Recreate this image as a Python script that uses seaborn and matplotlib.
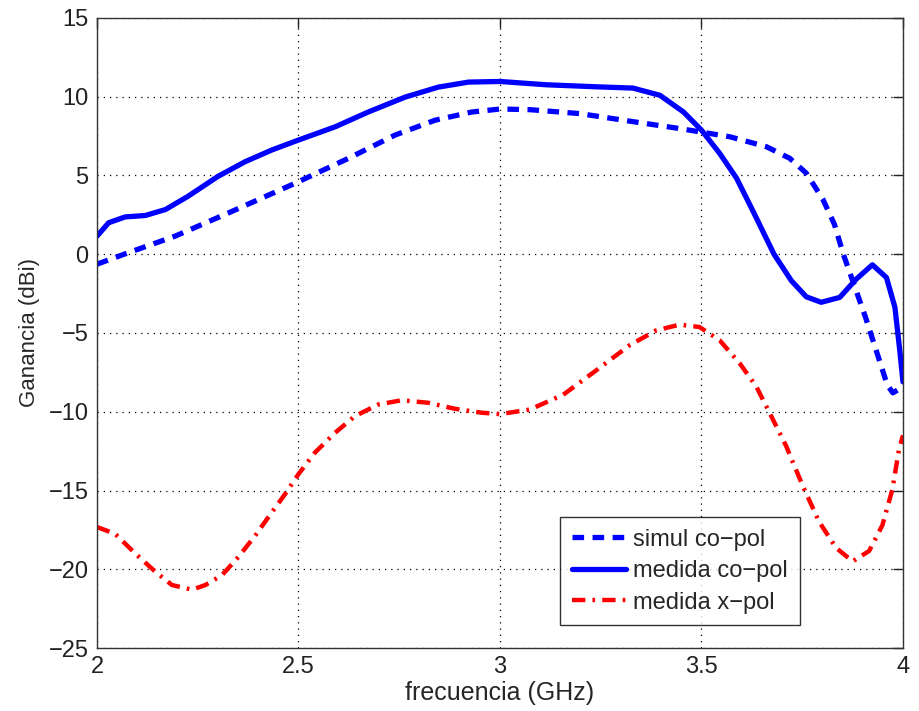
import numpy as np
import matplotlib
matplotlib.use("Agg")
import matplotlib.pyplot as plt
import seaborn as sns

# frequencies (GHz) and gains (dBi)
freq_simul = [2.0, 2.078, 2.194, 2.326, 2.492, 2.624, 2.74, 2.839, 2.93, 3.0, 3.074,
              3.198, 3.322, 3.446, 3.57, 3.661, 3.719, 3.76, 3.801, 3.83, 3.852, 3.878,
              3.907, 3.936, 3.961, 3.975, 3.988, 4.0]
gain_simul = [-0.63, 0.1, 1.15, 2.62, 4.51, 6.09, 7.57, 8.51, 9.03, 9.22, 9.18,
              8.93, 8.45, 7.98, 7.46, 6.83, 6.09, 5.15, 3.5, 1.89, 0.0, -1.89,
              -4.0, -6.3, -8.3, -8.8, -8.6, -8.3]

freq_medida = [2.0, 2.029, 2.07, 2.12, 2.17, 2.226, 2.30, 2.368, 2.434, 2.5, 2.591,
               2.674, 2.765, 2.847, 2.922, 3.0, 3.115, 3.24, 3.33, 3.397, 3.455, 3.5,
               3.545, 3.587, 3.628, 3.68, 3.723, 3.76, 3.797, 3.843, 3.884, 3.924,
               3.959, 3.98, 3.992, 4.0]
gain_medida = [1.15, 2.0, 2.37, 2.46, 2.84, 3.68, 4.94, 5.88, 6.62, 7.25, 8.09,
               9.04, 9.98, 10.61, 10.93, 10.97, 10.76, 10.63, 10.55, 10.09, 9.04, 7.88,
               6.41, 4.83, 2.73, 0.0, -1.68, -2.7, -3.05, -2.74, -1.58, -0.67,
               -1.48, -3.37, -6.1, -8.1]

freq_xpol = [2.0, 2.045, 2.095, 2.145, 2.186, 2.236, 2.269, 2.31, 2.351, 2.393, 2.434,
             2.467, 2.5, 2.541, 2.591, 2.64, 2.698, 2.756, 2.822, 2.888, 2.954, 3.0,
             3.074, 3.157, 3.24, 3.322, 3.388, 3.446, 3.495, 3.545, 3.595, 3.636,
             3.669, 3.71, 3.751, 3.792, 3.834, 3.875, 3.916, 3.949, 3.974, 3.99, 4.0]
gain_xpol = [-17.32, -17.75, -19.0, -20.16, -21.0, -21.3, -21.0, -20.38, -19.22, -17.85,
             -16.38, -15.22, -13.96, -12.59, -11.33, -10.28, -9.54, -9.27, -9.43, -9.81,
             -10.06, -10.15, -9.86, -8.92, -7.35, -5.77, -4.83, -4.47, -4.62, -5.46,
             -6.93, -8.4, -10.07, -12.17, -14.69, -16.99, -18.64, -19.5, -18.84, -17.2,
             -14.9, -12.4, -11.5]

sns.set_style("white")
plt.rcParams["font.family"] = ["Liberation Sans", "DejaVu Sans"]

fig = plt.figure(figsize=(9.2, 7.11), dpi=100)
ax = fig.add_axes([0.1054, 0.0886, 0.8761, 0.8861])

sns.lineplot(x=freq_simul, y=gain_simul, ax=ax, color="#0000ff", lw=3.8,
             linestyle=(0, (2.2, 1.6)), label="simul co\u2212pol")
sns.lineplot(x=freq_medida, y=gain_medida, ax=ax, color="#0000ff", lw=3.8,
             label="medida co\u2212pol")
sns.lineplot(x=freq_xpol, y=gain_xpol, ax=ax, color="#ff0000", lw=3.2,
             linestyle=(0, (3.0, 1.6, 0.6, 1.6)), label="medida x\u2212pol")

ax.set_xlim(2, 4)
ax.set_ylim(-25, 15)
ax.set_xticks([2, 2.5, 3, 3.5, 4])
ax.set_xticklabels(["2", "2.5", "3", "3.5", "4"])
ax.set_yticks(np.arange(-25, 16, 5))
ax.set_yticklabels(["\u221225", "\u221220", "\u221215", "\u221210", "\u22125", "0", "5", "10", "15"])
ax.grid(True, color="black", linestyle=(0, (1, 4)), linewidth=0.9)
ax.tick_params(direction="in", length=7, width=1, labelsize=17, top=True, right=True,
               pad=6, colors="#222222")
for sp in ax.spines.values():
    sp.set_color("#333333")
    sp.set_linewidth(1.0)

ax.set_xlabel("frecuencia (GHz)", fontsize=18, labelpad=2)
ax.set_ylabel("Ganancia (dBi)", fontsize=16, labelpad=6)

leg = ax.legend(loc="lower right", bbox_to_anchor=(0.872, 0.036), borderaxespad=0,
                fontsize=17, frameon=True, fancybox=False, handlelength=2.3,
                handletextpad=0.3, labelspacing=0.4, borderpad=0.5)
leg.get_frame().set_edgecolor("black")
leg.get_frame().set_linewidth(1.0)

fig.savefig("out.png", dpi=100)
